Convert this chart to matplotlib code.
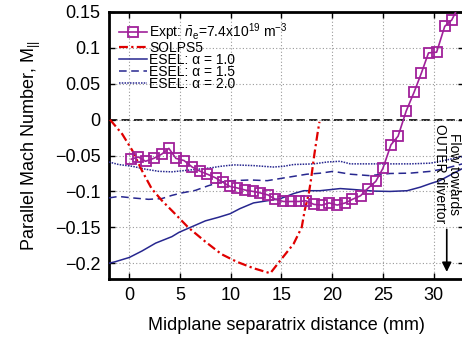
import matplotlib as mpl
import matplotlib.pyplot as plt

mpl.use('Agg')

plt.rcParams['font.family'] = ['Liberation Sans', 'DejaVu Sans']
plt.rcParams['mathtext.fontset'] = 'custom'
plt.rcParams['mathtext.rm'] = 'Liberation Sans'
plt.rcParams['mathtext.it'] = 'Liberation Sans:italic'

# experiment (squares)
expt_x = [0.2, 0.9, 1.6, 2.4, 3.2, 3.9, 4.6, 5.4, 6.2, 7.0, 7.7, 8.5, 9.2,
          9.9, 10.6, 11.4, 12.2, 12.9, 13.7, 14.4, 15.2, 15.9, 16.7, 17.4,
          18.2, 19.0, 19.7, 20.5, 21.3, 22.0, 22.8, 23.5, 24.3, 25.0, 25.8,
          26.5, 27.3, 28.1, 28.8, 29.5, 30.3, 31.1, 31.8, 32.6]
expt_y = [-0.055, -0.052, -0.058, -0.054, -0.048, -0.040, -0.054, -0.057,
          -0.066, -0.072, -0.076, -0.081, -0.087, -0.093, -0.095, -0.098,
          -0.100, -0.102, -0.105, -0.111, -0.114, -0.114, -0.114, -0.113,
          -0.118, -0.119, -0.116, -0.119, -0.116, -0.111, -0.106, -0.096,
          -0.086, -0.068, -0.035, -0.023, 0.012, 0.039, 0.065, 0.093, 0.094,
          0.130, 0.139, 0.162]

solps_x = [-1.9, -0.7, 0.3, 1.25, 2.2, 3.2, 4.5, 5.8, 7.5, 9.1, 10.6, 12.25,
           13.9, 14.9, 16.2, 17.0, 17.3, 17.7, 17.9, 18.25, 18.55, 18.75]
solps_y = [0.0, -0.020, -0.043, -0.071, -0.096, -0.1125, -0.131, -0.150,
           -0.170, -0.1875, -0.198, -0.207, -0.214, -0.196, -0.173, -0.150,
           -0.126, -0.103, -0.085, -0.048, -0.020, -0.003]

esel10_x = [-2.0, -1.4, 0.0, 1.25, 2.6, 4.2, 4.9, 6.2, 7.5, 8.8, 9.95, 10.9,
            12.25, 13.6, 14.9, 16.2, 17.2, 18.8, 20.8, 21.8, 24.1, 25.7,
            27.4, 28.7, 29.7, 30.6, 31.8, 33.0]
esel10_y = [-0.200, -0.198, -0.192, -0.183, -0.172, -0.163, -0.157, -0.149,
            -0.141, -0.136, -0.131, -0.124, -0.116, -0.113, -0.110, -0.103,
            -0.099, -0.099, -0.096, -0.097, -0.0995, -0.100, -0.099, -0.094,
            -0.089, -0.085, -0.076, -0.067]

esel15_x = [-2.0, -1.05, 0.3, 1.9, 3.2, 4.2, 5.2, 6.5, 7.8, 9.0, 10.3, 11.9,
            13.6, 14.9, 16.2, 17.5, 18.8, 20.1, 21.8, 23.7, 25.7, 27.7, 29.7,
            31.0, 33.0]
esel15_y = [-0.109, -0.107, -0.109, -0.111, -0.110, -0.1055, -0.102, -0.0986,
            -0.092, -0.087, -0.085, -0.084, -0.085, -0.082, -0.079, -0.076,
            -0.0746, -0.072, -0.076, -0.078, -0.075, -0.0745, -0.072, -0.0685,
            -0.061]

esel20_x = [-2.0, -1.05, 0.3, 1.6, 2.9, 4.2, 5.5, 6.8, 8.1, 9.0, 10.3, 12.25,
            14.2, 15.2, 16.2, 18.2, 19.5, 20.8, 21.8, 23.7, 25.7, 27.7, 29.7,
            31.0, 33.0]
esel20_y = [-0.059, -0.0625, -0.065, -0.069, -0.072, -0.0727, -0.0708, -0.069,
            -0.067, -0.065, -0.063, -0.064, -0.066, -0.065, -0.0625, -0.0616,
            -0.059, -0.058, -0.0616, -0.0616, -0.0616, -0.0616, -0.0606, -0.057,
            -0.051]

xticks = [0, 5, 10, 15, 20, 25, 30]
yticks = [-0.2, -0.15, -0.1, -0.05, 0, 0.05, 0.1, 0.15]
ytick_labels = ['\u22120.2', '\u22120.15', '\u22120.1', '\u22120.05', '0',
                '0.05', '0.1', '0.15']

fig = plt.figure(figsize=(4.62, 3.44), dpi=100)
ax = fig.add_axes([109 / 462, 1 - 279 / 344, 355 / 462, 267 / 344])

ax.axhline(0, color='black', lw=1.2, ls=(0, (5, 2.5)), zorder=1)

navy = '#27278f'
ax.plot(expt_x, expt_y, color='#a0209a', lw=1.2, marker='s', ms=6.5,
        mfc='none', mew=1.3,
        label=r'Expt: $\bar{n}_\mathrm{e}$=7.4x10$^{19}$ m$^{-3}$', zorder=5)
ax.plot(solps_x, solps_y, color='#e00000', lw=1.6, ls=(0, (4, 1.5, 1, 1.5)),
        label='SOLPS5', zorder=4)
ax.plot(esel10_x, esel10_y, color=navy, lw=1.1, ls='-',
        label='ESEL: \u03b1 = 1.0', zorder=3)
ax.plot(esel15_x, esel15_y, color=navy, lw=1.1, ls=(0, (5, 3)),
        label='ESEL: \u03b1 = 1.5', zorder=3)
ax.plot(esel20_x, esel20_y, color=navy, lw=1.1, ls=(0, (1, 0.8)),
        label='ESEL: \u03b1 = 2.0', zorder=3)

ax.set_xlim(-2, 33)
ax.set_ylim(-0.222, 0.15)
ax.set_xticks(xticks)
ax.set_yticks(yticks)
ax.set_yticklabels(ytick_labels)
ax.tick_params(direction='in', top=True, right=True, labelsize=13,
               length=4, width=1, pad=6)
ax.grid(True, color='#999999', ls=(0, (1, 2)), lw=0.8)
for s in ax.spines.values():
    s.set_linewidth(2)

ax.set_xlabel('Midplane separatrix distance (mm)', fontsize=13, labelpad=9)
ax.set_ylabel(r'Parallel Mach Number, M$_{||}$', fontsize=13, labelpad=9)

ax.text(31.3, -0.006, 'Flow towards\nOUTER divertor', rotation=270,
        ha='center', va='top', fontsize=10, linespacing=1.0, zorder=6)
ax.annotate('', xy=(31.3, -0.216), xytext=(31.3, -0.149),
            arrowprops=dict(arrowstyle='-|>', color='black', lw=1.2,
                            mutation_scale=14))

leg = ax.legend(loc='upper left', frameon=False, fontsize=10,
                handlelength=2.0, handletextpad=0.2, labelspacing=-0.15,
                borderaxespad=0.3)

fig.savefig('out.png', dpi=100)
